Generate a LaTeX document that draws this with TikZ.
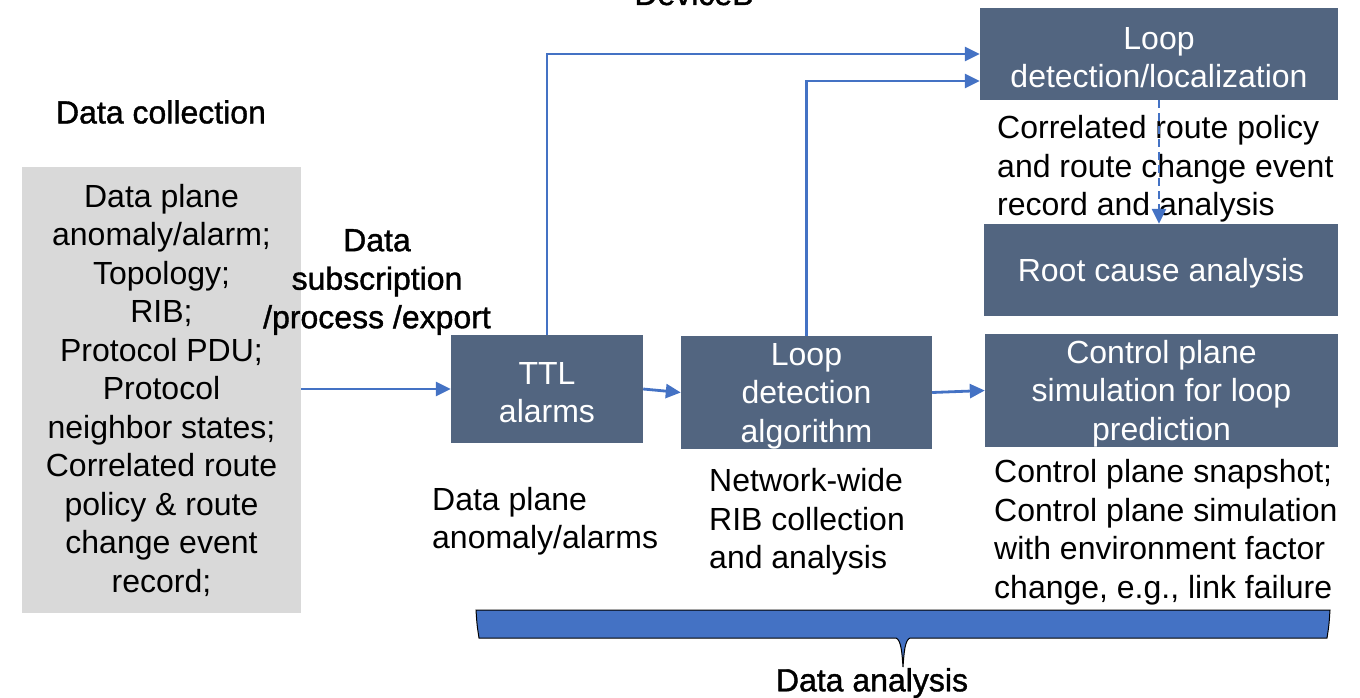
\documentclass[tikz,border=0pt]{standalone}
\usepackage{fontspec}
\setmainfont{Liberation Sans}
\newfontfamily\headfont[FakeBold=1.2]{Liberation Sans}
\usetikzlibrary{positioning,calc,arrows.meta}
\definecolor{boxblue}{RGB}{82,101,128}
\definecolor{arrowblue}{RGB}{68,114,196}
\definecolor{panelgray}{RGB}{217,217,217}
\newcommand{\toplift}{\rule{0pt}{29pt}}

\begin{document}
\begin{tikzpicture}[x=1pt,y=-1pt,
    every node/.style={font=\fontsize{32}{38.5}\selectfont, inner sep=0pt},
    head/.style={font=\fontsize{32}{38.5}\headfont, align=center},
    box/.style={fill=boxblue, text=white, align=center},
    note/.style={align=left, anchor=west},
    flow/.style={draw=arrowblue, line width=2.8pt, -{Triangle[length=15pt,width=14pt]}}]
  \clip (0,0) rectangle (1360,698);

  % cut-off title at the top
  \node[head, anchor=base] (dev) at (694,5) {DeviceB};

  % data collection side
  \node[head] (coll) at (161,112) {Data collection};
  \node[fill=panelgray, align=center, minimum width=279pt, minimum height=446pt] (panel) at (161.5,390)
    {Data plane\\anomaly/alarm;\\Topology;\\RIB;\\Protocol PDU;\\Protocol\\neighbor states;\\Correlated route\\policy \& route\\change event\\record;};
  \node[head] (sub) at (377,282) {Data\\subscription\\/process /export};

  % analysis boxes
  \node[box, minimum width=192pt, minimum height=108pt] (ttl) at (547,389) {\toplift TTL\\alarms};
  \node[box, minimum width=251pt, minimum height=109pt] (algo) at (806.5,392.5) {\toplift Loop\\detection\\algorithm};
  \node[box, minimum width=353pt, minimum height=109pt] (ctrl) at (1161.5,390.5) {\toplift Control plane\\simulation for loop\\prediction};
  \node[box, minimum width=354pt, minimum height=92pt] (root) at (1161,270) {\toplift Root cause analysis};
  \node[box, minimum width=358pt, minimum height=92pt] (loc) at (1159,54) {\toplift Loop\\detection/localization};

  % notes under the boxes
  \node[note] (corr) at (997,169) {Correlated route policy\\and route change event\\record and analysis};
  \node[note] (anom) at (432,521) {Data plane\\anomaly/alarms};
  \node[note] (rib) at (709,522) {Network-wide\\RIB collection\\and analysis};
  \node[note] (snap) at (994,532) {Control plane snapshot;\\Control plane simulation\\with environment factor\\change, e.g., link failure};

  % connectors
  \draw[flow] (panel.east |- ttl.west) -- (ttl.west);
  \draw[flow] (ttl.east) -- (algo.west);
  \draw[flow] (algo.east) -- (ctrl.west);
  \draw[flow] (ttl.north) |- (loc.west);
  \draw[flow] (algo.north) |- ([yshift=-27pt]loc.west);
  \draw[flow, dashed, dash pattern=on 8pt off 5pt] (loc.south) -- (loc.south |- root.north);

  % brace
  \draw[fill=arrowblue, line width=1pt] (476,610) -- (1330,610)
    .. controls (1329,625) .. (1327,638) -- (910,638)
    .. controls (905,640) and (904,652) .. (903,667)
    .. controls (902,652) and (901,640) .. (896,638) -- (479,638)
    .. controls (477,625) .. (476,610) -- cycle;
  \node[head] (ana) at (872,683) {Data analysis};
\end{tikzpicture}
\end{document}
